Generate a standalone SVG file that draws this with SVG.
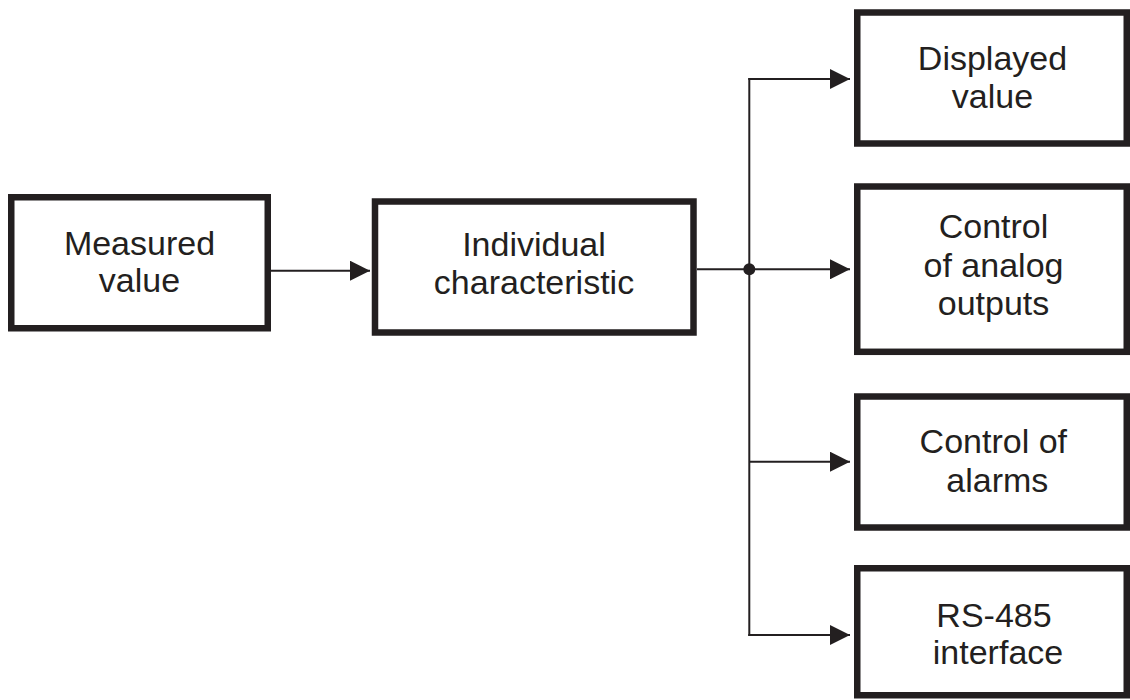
<svg xmlns="http://www.w3.org/2000/svg" width="1130" height="700" viewBox="0 0 1130 700">
<style>
.box{fill:#ffffff;stroke:#231f20;stroke-width:6.5}
.lbl{font-family:"Liberation Sans",Arial,sans-serif;font-size:34px;fill:#231f20;text-anchor:middle}
.wire{fill:none;stroke:#231f20;stroke-width:2}
</style>
<defs>
<marker id="arr" markerUnits="userSpaceOnUse" markerWidth="20" markerHeight="20" refX="20" refY="10" orient="auto">
<path d="M0,0 L20,10 L0,20 Z" fill="#231f20"/>
</marker>
</defs>
<rect width="1130" height="700" fill="#ffffff"/>
<g id="connectors">
<line class="wire" x1="271" y1="270.7" x2="370" y2="270.7" marker-end="url(#arr)"/>
<line class="wire" x1="697" y1="269.3" x2="749.3" y2="269.3"/>
<line class="wire" x1="749.3" y1="78" x2="749.3" y2="636"/>
<line class="wire" x1="748.3" y1="79" x2="850" y2="79" marker-end="url(#arr)"/>
<line class="wire" x1="749.3" y1="269.3" x2="850" y2="269.3" marker-end="url(#arr)"/>
<line class="wire" x1="749.3" y1="461.7" x2="850" y2="461.7" marker-end="url(#arr)"/>
<line class="wire" x1="748.3" y1="635" x2="850" y2="635" marker-end="url(#arr)"/>
<circle cx="749.3" cy="269.3" r="6" fill="#231f20"/>
</g>
<g id="measured">
<rect class="box" x="11.25" y="197.25" width="256.5" height="131"/>
<text class="lbl" x="139.5" y="255">Measured</text>
<text class="lbl" x="139.5" y="292">value</text>
</g>
<g id="individual">
<rect class="box" x="375" y="201.5" width="318.5" height="131"/>
<text class="lbl" x="534" y="255.7">Individual</text>
<text class="lbl" x="534" y="294">characteristic</text>
</g>
<g id="displayed">
<rect class="box" x="857.25" y="12.5" width="269.5" height="131"/>
<text class="lbl" x="992.5" y="70">Displayed</text>
<text class="lbl" x="992.5" y="108.3">value</text>
</g>
<g id="analog">
<rect class="box" x="857.25" y="186.5" width="269.5" height="165.3"/>
<text class="lbl" x="993.5" y="238.3">Control</text>
<text class="lbl" x="993.5" y="276.7">of analog</text>
<text class="lbl" x="993.5" y="315">outputs</text>
</g>
<g id="alarms">
<rect class="box" x="857.25" y="396.5" width="269.5" height="131"/>
<text class="lbl" x="993.3" y="453.3">Control of</text>
<text class="lbl" x="997.3" y="491.7">alarms</text>
</g>
<g id="rs485">
<rect class="box" x="857.25" y="568.25" width="269.5" height="127"/>
<text class="lbl" x="994" y="626.7">RS-485</text>
<text class="lbl" x="998" y="664">interface</text>
</g>
</svg>
